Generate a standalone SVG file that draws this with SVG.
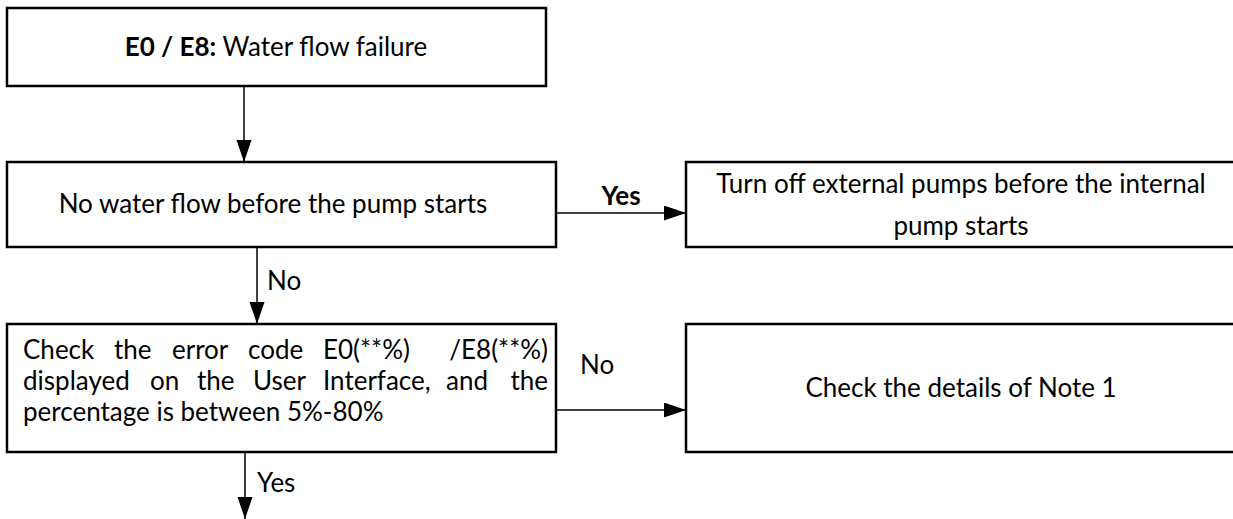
<svg xmlns="http://www.w3.org/2000/svg" width="1233" height="519" viewBox="0 0 1233 519">
<style>
.box{fill:#fff;stroke:#000;stroke-width:2.5}
.t{font-family:Lato,"Open Sans","Liberation Sans",sans-serif;font-size:26px;fill:#000}
.c{text-anchor:middle}
.e{text-anchor:end}
.b{font-weight:bold}
.ln{stroke:#000;stroke-width:1.5;fill:none}
</style>
<defs>
<marker id="ah" markerUnits="userSpaceOnUse" markerWidth="24" markerHeight="16" refX="22" refY="7.5" orient="auto">
<path d="M0,0 L22,7.5 L0,15 z" fill="#000"/>
</marker>
</defs>
<g id="connectors">
<line class="ln" x1="244" y1="86" x2="244" y2="162" marker-end="url(#ah)"/>
<line class="ln" x1="556" y1="213" x2="686" y2="213" marker-end="url(#ah)"/>
<text class="t b c" x="621" y="205">Yes</text>
<line class="ln" x1="257" y1="247" x2="257" y2="324" marker-end="url(#ah)"/>
<text class="t" x="267" y="290">No</text>
<line class="ln" x1="556" y1="410" x2="686" y2="410" marker-end="url(#ah)"/>
<text class="t" x="580" y="374">No</text>
<line class="ln" x1="245" y1="452" x2="245" y2="519" marker-end="url(#ah)"/>
<text class="t" x="257" y="492">Yes</text>
</g>
<g id="n1">
<rect class="box" x="7" y="8" width="539" height="78"/>
<text class="t c" x="276" y="56"><tspan class="b">E0 / E8:</tspan> Water flow failure</text>
</g>
<g id="n2">
<rect class="box" x="7" y="162" width="549" height="85"/>
<text class="t c" x="273" y="213">No water flow before the pump starts</text>
</g>
<g id="n3">
<rect class="box" x="686" y="162" width="550" height="85"/>
<text class="t c" x="961" y="193">Turn off external pumps before the internal</text>
<text class="t c" x="961" y="235">pump starts</text>
</g>
<g id="n4">
<rect class="box" x="7" y="324" width="549" height="128"/>
<text class="t" x="23" y="359">Check</text>
<text class="t" x="114" y="359">the</text>
<text class="t" x="172" y="359">error</text>
<text class="t" x="248" y="359">code</text>
<text class="t" x="323" y="359">E0(**%)</text>
<text class="t e" x="548" y="359">/E8(**%)</text>
<text class="t" x="23" y="390">displayed</text>
<text class="t" x="150" y="390">on</text>
<text class="t" x="197" y="390">the</text>
<text class="t" x="253" y="390">User</text>
<text class="t" x="323" y="390">Interface,</text>
<text class="t" x="446" y="390">and</text>
<text class="t e" x="548" y="390">the</text>
<text class="t" x="23" y="421">percentage is between 5%-80%</text>
</g>
<g id="n5">
<rect class="box" x="686" y="324" width="550" height="128"/>
<text class="t c" x="961" y="397">Check the details of Note 1</text>
</g>
</svg>
